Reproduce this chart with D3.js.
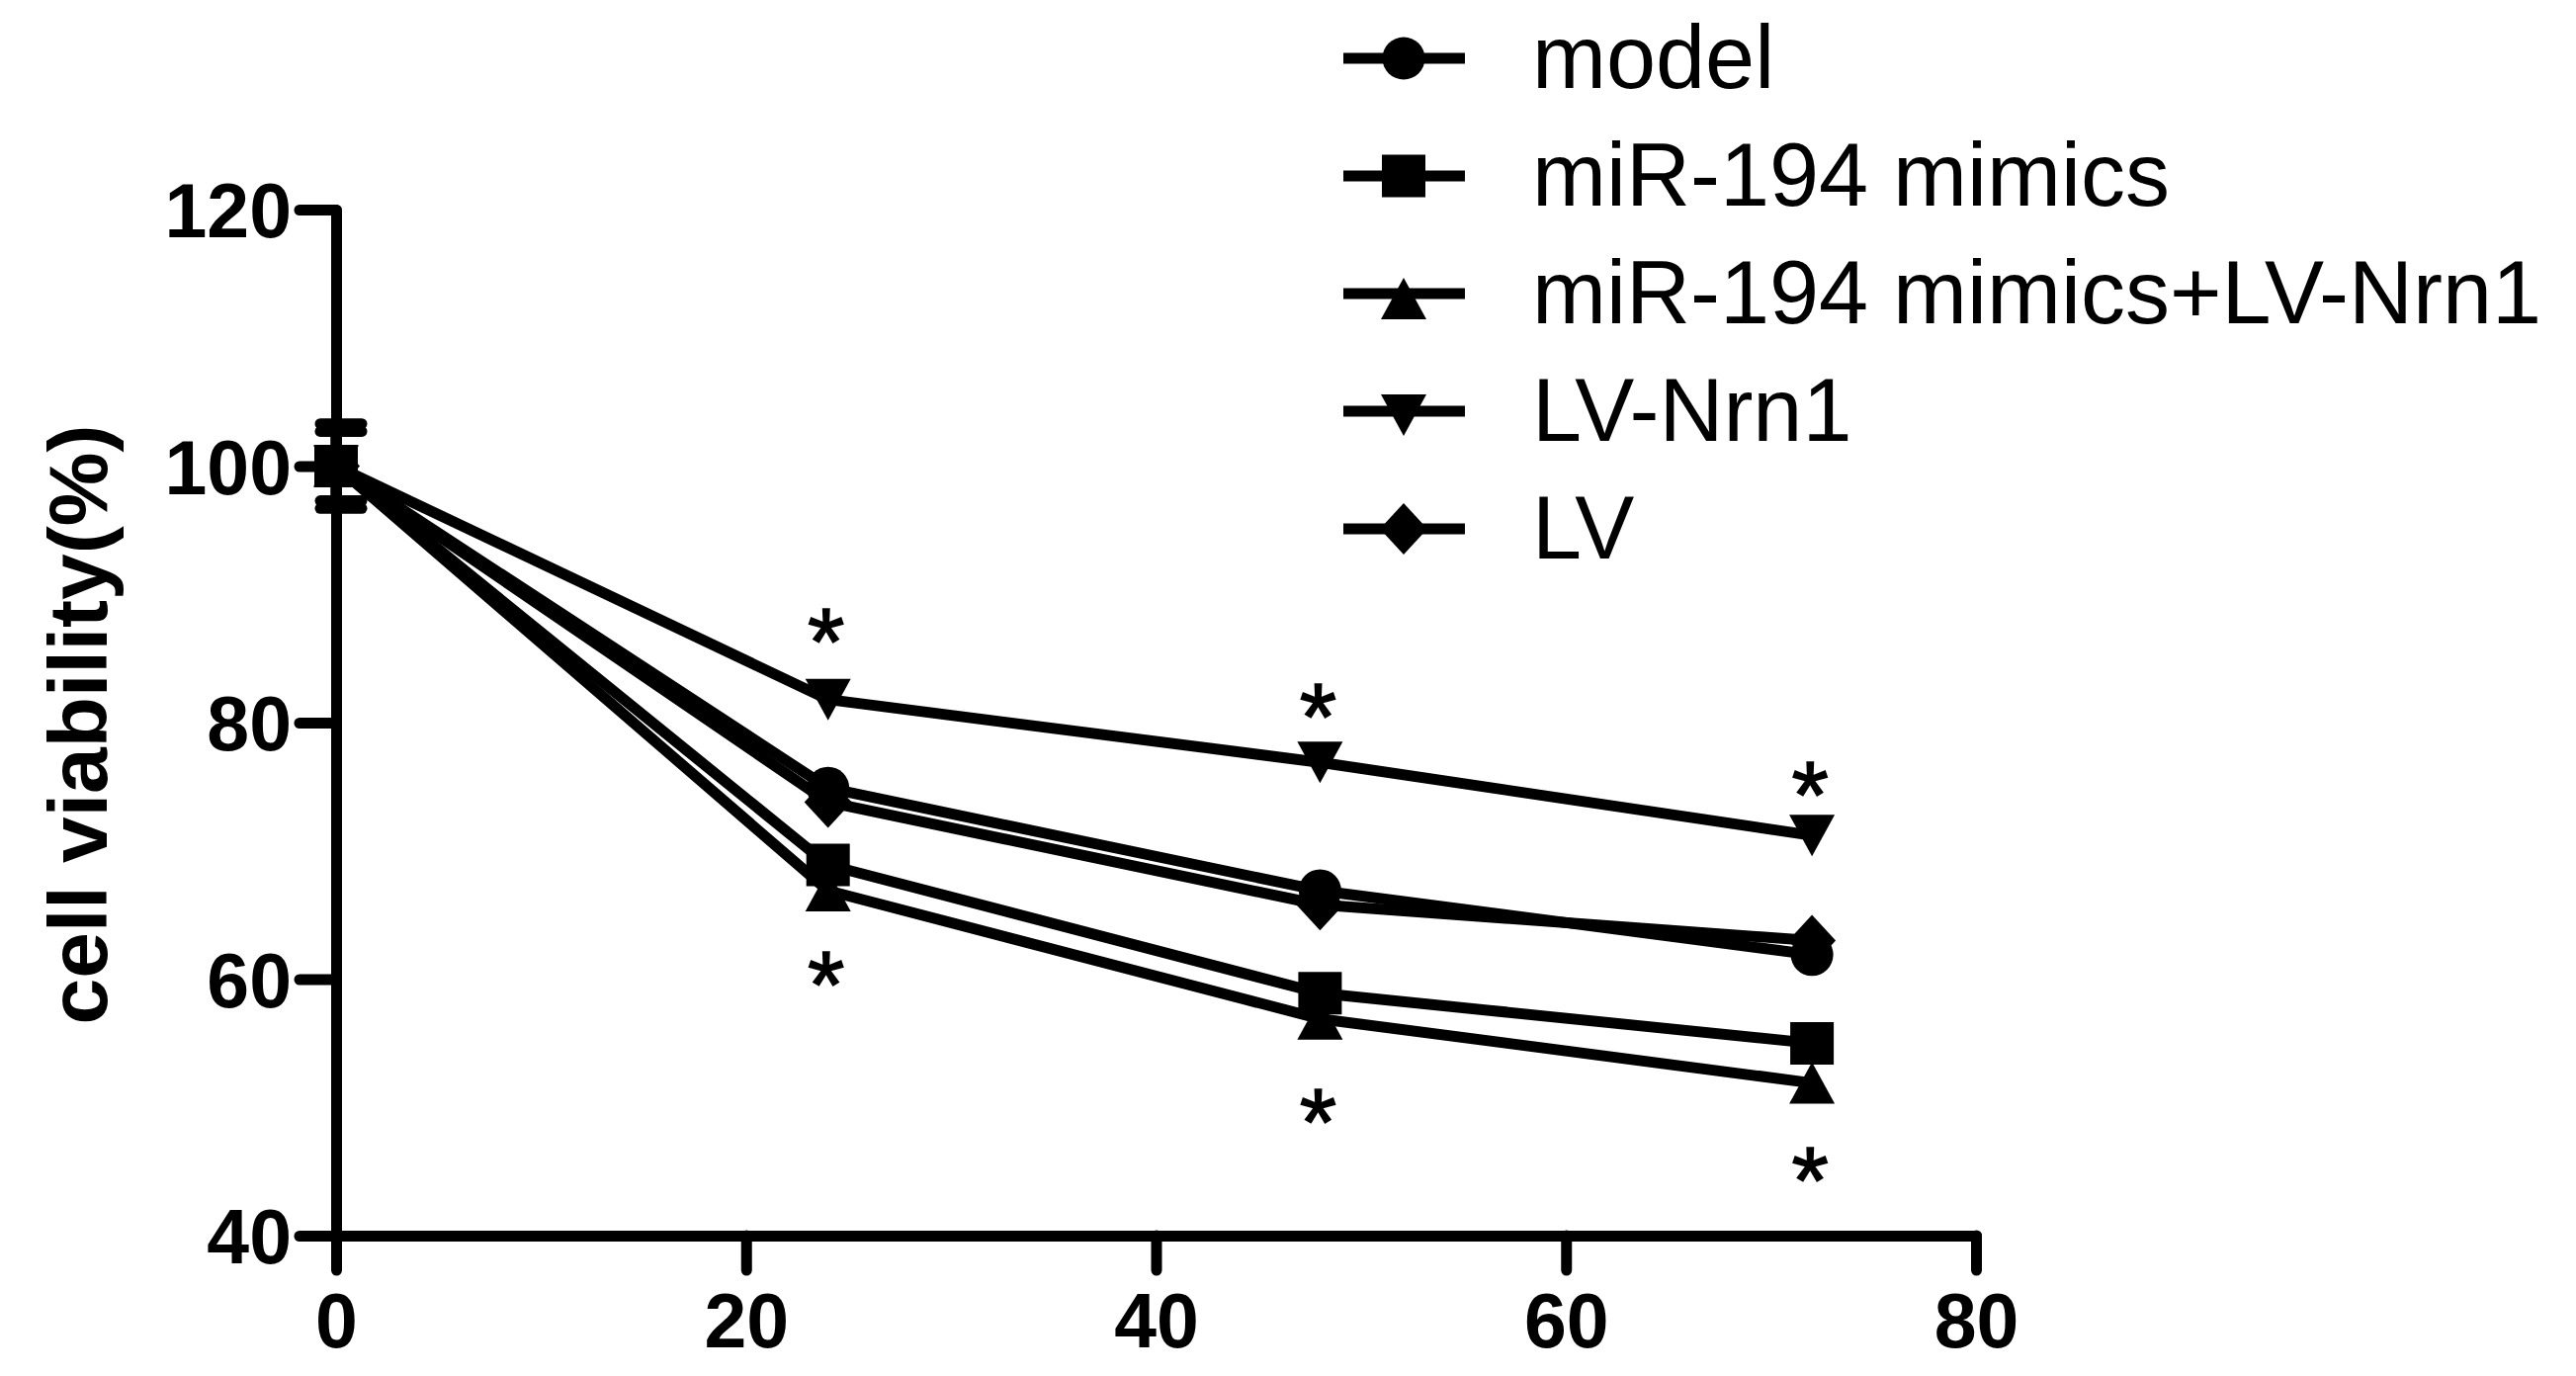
<!DOCTYPE html>
<html>
<head>
<meta charset="utf-8">
<script src="https://cdn.jsdelivr.net/npm/d3@7"></script>
<style>
  html, body { margin: 0; padding: 0; background: #fff; overflow: hidden; }
  svg { display: block; }
</style>
</head>
<body>
<script>
// ---------- DATA ----------
const hours = [0, 24, 48, 72];
const seriesNames = ["model", "miR-194 mimics", "miR-194 mimics+LV-Nrn1", "LV-Nrn1", "LV"];
const seriesShapes = ["circle", "square", "triangleUp", "triangleDown", "diamond"];
const modelValues = [100, 74.9, 66.9, 61.9];
const mimicsValues = [100, 68.9, 58.9, 55.0];
const mimicsLvNrn1Values = [100, 66.9, 56.9, 51.9];
const lvNrn1Values = [100, 81.8, 76.9, 71.2];
const lvValues = [100, 73.8, 65.8, 63.0];
const modelErr = [2.7, 0, 0, 0];
const mimicsErr = [3.3, 0, 0, 0];
const mimicsLvNrn1Err = [0, 0, 0, 0];
const lvNrn1Err = [0, 0, 0, 0];
const lvErr = [0, 0, 0, 0];
const starHours = [24, 48, 72];
const starAbove = [88.0, 82.2, 76.1];
const starBelow = [61.3, 50.6, 46.0];
const xTicks = [0, 20, 40, 60, 80];
const yTicks = [40, 60, 80, 100, 120];
const yTitle = "cell viability(%)";

const seriesValues = [modelValues, mimicsValues, mimicsLvNrn1Values, lvNrn1Values, lvValues];
const seriesErrs = [modelErr, mimicsErr, mimicsLvNrn1Err, lvNrn1Err, lvErr];

// ---------- LAYOUT ----------
const W = 2606, H = 1392;
const FONT = "Arial, 'Liberation Sans', Helvetica, sans-serif";
const LW = 11;

const svg = d3.select("body").append("svg")
  .attr("width", W).attr("height", H)
  .attr("viewBox", `0 0 ${W} ${H}`);

const x = d3.scaleLinear().domain([0, 80]).range([340, 1999]);
const y = d3.scaleLinear().domain([40, 120]).range([1250, 212]);

function markerPath(shape) {
  switch (shape) {
    case "circle": return d3.symbol().type(d3.symbolCircle).size(Math.PI * 21.5 * 21.5)();
    case "square": return "M-22,-21.5H22V21.5H-22Z";
    case "triangleUp": return "M0,-21L23,21H-23Z";
    case "triangleDown": return "M0,21L23,-21H-23Z";
    case "diamond": return "M0,-26L24,0L0,26L-24,0Z";
  }
}

// ---------- AXES ----------
const yAxis = d3.axisLeft(y).tickValues(yTicks).tickSize(37).tickSizeOuter(0).tickPadding(8);
const xAxis = d3.axisBottom(x).tickValues(xTicks).tickSize(35).tickSizeOuter(0).tickPadding(22);

const gy = svg.append("g").attr("transform", `translate(${x(0)},0)`).call(yAxis);
const gx = svg.append("g").attr("transform", `translate(0,${y(40)})`).call(xAxis);

[gy, gx].forEach(g => {
  g.select(".domain").attr("stroke", "#000").attr("stroke-width", LW).attr("stroke-linecap", "round").attr("stroke-linejoin", "round");
  g.selectAll(".tick line").attr("stroke", "#000").attr("stroke-width", LW).attr("stroke-linecap", "round");
  g.selectAll(".tick text")
    .attr("fill", "#000")
    .attr("font-family", FONT)
    .attr("font-weight", "bold")
    .attr("font-size", 77);
});
gy.selectAll(".tick text").attr("dy", "0.36em");
gx.selectAll(".tick text").attr("dy", "0.73em");

svg.append("text")
  .attr("transform", `translate(108,${(y(40) + y(120)) / 2 + 2}) rotate(-90)`)
  .attr("text-anchor", "middle")
  .attr("font-family", FONT)
  .attr("font-weight", "bold")
  .attr("font-size", 84)
  .attr("fill", "#000")
  .text(yTitle);

// ---------- SERIES ----------
const line = d3.line().x(d => x(d[0])).y(d => y(d[1]));
const plot = svg.append("g");

seriesValues.forEach((vals, i) => {
  const pts = hours.map((h, j) => [h, vals[j]]);
  plot.append("path")
    .attr("d", line(pts))
    .attr("fill", "none")
    .attr("stroke", "#000")
    .attr("stroke-width", LW)
    .attr("stroke-linejoin", "round");
});

seriesValues.forEach((vals, i) => {
  const errs = seriesErrs[i];
  hours.forEach((h, j) => {
    if (!errs[j]) return;
    const cx = x(h), top = y(vals[j] + errs[j]), bot = y(vals[j] - errs[j]);
    const g = plot.append("g").attr("stroke", "#000").attr("stroke-width", LW).attr("stroke-linecap", "round");
    g.append("line").attr("x1", cx).attr("x2", cx).attr("y1", top).attr("y2", bot);
    g.append("line").attr("x1", cx - 16).attr("x2", cx + 26).attr("y1", top).attr("y2", top);
    g.append("line").attr("x1", cx - 16).attr("x2", cx + 26).attr("y1", bot).attr("y2", bot);
  });
});

seriesValues.forEach((vals, i) => {
  plot.selectAll(null)
    .data(hours.map((h, j) => [h, vals[j]]))
    .enter().append("path")
    .attr("d", markerPath(seriesShapes[i]))
    .attr("transform", d => `translate(${x(d[0])},${y(d[1])})`)
    .attr("fill", "#000");
});

const STAR_FS = 96;
const starData = starHours.map((h, j) => [h, starAbove[j]]).concat(starHours.map((h, j) => [h, starBelow[j]]));
svg.selectAll(null)
  .data(starData)
  .enter().append("text")
  .attr("x", d => x(d[0]) - 2)
  .attr("y", d => y(d[1]) + STAR_FS * 0.575)
  .attr("text-anchor", "middle")
  .attr("font-family", FONT)
  .attr("font-size", STAR_FS)
  .attr("stroke", "#000")
  .attr("stroke-width", 1.5)
  .attr("fill", "#000")
  .text("*");

// ---------- LEGEND ----------
const legend = svg.append("g");
const legX0 = 1359, legX1 = 1482, legMx = 1420, legTx = 1550;
seriesNames.forEach((name, i) => {
  const base = 89 + 119 * i;
  const ly = base - 30;
  legend.append("line")
    .attr("x1", legX0).attr("x2", legX1).attr("y1", ly).attr("y2", ly)
    .attr("stroke", "#000").attr("stroke-width", LW);
  legend.append("path")
    .attr("d", markerPath(seriesShapes[i]))
    .attr("transform", `translate(${legMx},${ly + (seriesShapes[i] === "triangleUp" ? 5 : seriesShapes[i] === "triangleDown" ? 4 : 0)})`)
    .attr("fill", "#000");
  legend.append("text")
    .attr("x", legTx).attr("y", base)
    .attr("font-family", FONT)
    .attr("font-size", 90)
    .attr("fill", "#000")
    .text(name);
});
</script>
</body>
</html>
